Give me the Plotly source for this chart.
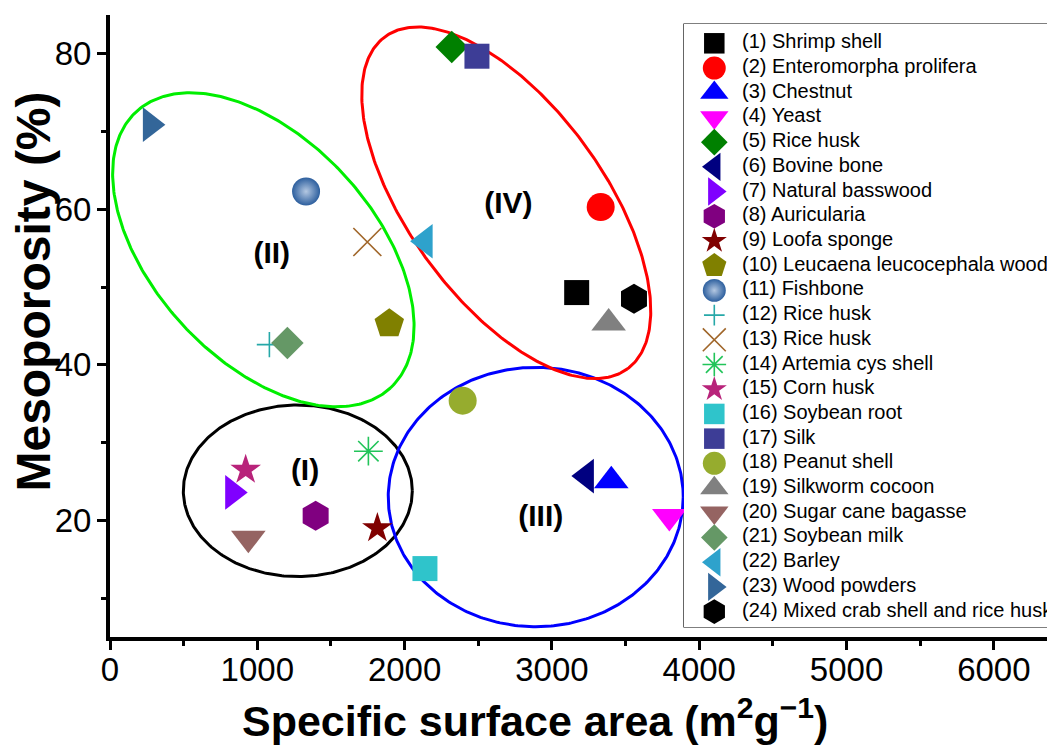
import numpy as np
import plotly.graph_objects as go

# ---------------- data ----------------
names = [
    "(1) Shrimp shell", "(2) Enteromorpha prolifera", "(3) Chestnut", "(4) Yeast",
    "(5) Rice husk", "(6) Bovine bone", "(7) Natural basswood", "(8) Auricularia",
    "(9) Loofa sponge", "(10) Leucaena leucocephala wood", "(11) Fishbone",
    "(12) Rice husk", "(13) Rice husk", "(14) Artemia cys shell", "(15) Corn husk",
    "(16) Soybean root", "(17) Silk", "(18) Peanut shell", "(19) Silkworm cocoon",
    "(20) Sugar cane bagasse", "(21) Soybean milk", "(22) Barley", "(23) Wood powders",
    "(24) Mixed crab shell and rice husk",
]
surface_area = [3168, 3331, 3403, 3797, 2320, 3234, 833, 1396, 1815, 1896, 1331, 1082,
                1747, 1754, 921, 2138, 2491, 2394, 3385, 939, 1204, 2139, 274, 3557]
mesoporosity = [49.3, 60.3, 25.1, 20.5, 80.9, 25.7, 23.6, 20.6, 19.0, 45.3, 62.3, 42.6,
                55.8, 28.9, 26.5, 13.8, 79.7, 35.4, 45.4, 17.7, 42.8, 55.9, 70.9, 48.5]
symbols = ["square", "circle", "triangle-up", "triangle-down", "diamond", "triangle-left",
           "triangle-right", "hexagon", "star", "pentagon", "circle", "cross-thin",
           "x-thin", "asterisk", "star", "square", "square", "circle", "triangle-up",
           "triangle-down", "diamond", "triangle-left", "triangle-right", "hexagon"]
colors = ["#000000", "#FF0000", "#0000FF", "#FF00FF", "#008000", "#000080", "#8000FF",
          "#800080", "#800000", "#808000", "#2D5F9E", "#26A8A8", "#A0662A", "#22C45A",
          "#B8237A", "#2FC4CB", "#3D3D96", "#96AC2E", "#808080", "#956462", "#659866",
          "#2EA2CC", "#336699", "#000000"]

# groups (ellipses) : label, colour, centre (data units)
group_labels = ["(I)", "(II)", "(III)", "(IV)"]
group_colors = ["#000000", "#00EE00", "#0000FF", "#FF0000"]
group_cx = [1275, 1041, 2890, 2690]
group_cy = [23.8, 54.8, 23.0, 60.85]
label_x = [1324, 1098, 2924, 2704]
label_y = [26.1, 54.1, 20.3, 60.5]

x_ticks = [0, 1000, 2000, 3000, 4000, 5000, 6000]
y_ticks = [20, 40, 60, 80]

# ---------------- style / layout ----------------
OFF = 8                      # page body margin
W, H = 1055 - OFF, 745 - OFF
ML, MR, MT, MB = 110 - OFF, 0, 15 - OFF, 108
X_RANGE = [0, 6415]
Y_RANGE = [5, 85]
plot_w = W - ML - MR
plot_h = H - MT - MB
sx = plot_w / (X_RANGE[1] - X_RANGE[0])   # px per data unit
sy = plot_h / (Y_RANGE[1] - Y_RANGE[0])


def px_x(p):  # page pixel -> paper x
    return (p - 110) / plot_w


def px_y(p):  # page pixel -> paper y
    return (637 - p) / plot_h


# ellipse shape (screen semi-axes in px, rotation in degrees, y pointing down)
ell_a = [114.5, 187.7, 147.5, 205.6]
ell_b = [85.8, 110.2, 129.7, 97.5]
ell_rot = [0, 47.4, 0, 53.9]

size_map = {"square": 25, "circle": 28, "triangle-up": 30, "triangle-down": 30,
            "triangle-left": 30, "triangle-right": 30, "diamond": 25, "hexagon": 30,
            "star": 23, "pentagon": 31, "cross-thin": 18, "x-thin": 28, "asterisk": 24}
FONT = "Arial, Liberation Sans, sans-serif"

fig = go.Figure()

# ellipses
t = np.linspace(0, 2 * np.pi, 361)
for i in range(len(group_labels)):
    th = np.deg2rad(ell_rot[i])
    dx = ell_a[i] * np.cos(th) * np.cos(t) - ell_b[i] * np.sin(th) * np.sin(t)
    dy = ell_a[i] * np.sin(th) * np.cos(t) + ell_b[i] * np.cos(th) * np.sin(t)
    fig.add_trace(go.Scatter(
        x=group_cx[i] + dx / sx, y=group_cy[i] - dy / sy, mode="lines",
        line=dict(color=group_colors[i], width=3), hoverinfo="skip",
        showlegend=False, xaxis="x", yaxis="y"))


def marker_style(i, scale=1.0):
    sym = symbols[i]
    m = dict(symbol=sym, size=size_map[sym] * scale, color=colors[i],
             line=dict(width=0, color=colors[i]))
    if sym in ("cross-thin", "x-thin", "asterisk"):
        m["line"] = dict(width=1.6, color=colors[i])
    if i == 10:  # fishbone: shaded sphere
        m["gradient"] = dict(type="radial", color="#b4c8e2")
    return m


# data points
for i in range(len(names)):
    fig.add_trace(go.Scatter(
        x=[surface_area[i]], y=[mesoporosity[i]], mode="markers", name=names[i],
        marker=marker_style(i), showlegend=False, xaxis="x", yaxis="y"))

# group labels
fig.add_trace(go.Scatter(
    x=label_x, y=label_y, mode="text", text=group_labels,
    textfont=dict(family=FONT, size=30, color="black", weight="bold"),
    hoverinfo="skip", showlegend=False, xaxis="x", yaxis="y"))

# key (legend) drawn on its own axes
rows = list(range(1, len(names) + 1))
for i in range(len(names)):
    fig.add_trace(go.Scatter(
        x=[30.3], y=[rows[i]], mode="markers", marker=marker_style(i, 0.82),
        hoverinfo="skip", showlegend=False, xaxis="x2", yaxis="y2"))
fig.add_trace(go.Scatter(
    x=[58] * len(names), y=rows, mode="text", text=names, textposition="middle right",
    textfont=dict(family=FONT, size=20, color="black"), marker=dict(size=1),
    hoverinfo="skip", showlegend=False, xaxis="x2", yaxis="y2"))

fig.add_shape(type="rect", xref="x2 domain", yref="y2 domain", x0=0, x1=1.2, y0=0, y1=1,
              line=dict(color="black", width=1.2), fillcolor="white", layer="below")

tickfont = dict(family=FONT, size=33, color="black")
fig.update_layout(
    width=W, height=H, margin=dict(l=ML, r=MR, t=MT, b=MB),
    paper_bgcolor="white", plot_bgcolor="white", showlegend=False,
    xaxis=dict(range=X_RANGE, tickvals=x_ticks, showline=True, linewidth=4, linecolor="black",
               ticks="outside", ticklen=9, tickwidth=3, tickcolor="black",
               minor=dict(dtick=500, ticks="outside", ticklen=5, tickwidth=3, tickcolor="black"),
               showgrid=False, zeroline=False, tickfont=tickfont, ticklabelstandoff=-9),
    yaxis=dict(range=Y_RANGE, tickvals=y_ticks, showline=True, linewidth=4, linecolor="black",
               ticks="outside", ticklen=9, tickwidth=3, tickcolor="black",
               minor=dict(tickvals=[10, 30, 50, 70], ticks="outside", ticklen=5, tickwidth=3,
                          tickcolor="black"),
               showgrid=False, zeroline=False, tickfont=tickfont, ticklabelstandoff=-1),
    xaxis3=dict(range=X_RANGE, overlaying="x", side="top", anchor="y", showline=True,
                linewidth=3, linecolor="black", ticks="inside", ticklen=4, tickwidth=2,
                tickcolor="black", dtick=500, tick0=0, showticklabels=False,
                showgrid=False, zeroline=False),
    xaxis2=dict(domain=[px_x(684), 1], range=[0, 1055 - 684], anchor="y2", visible=False,
                fixedrange=True),
    yaxis2=dict(domain=[px_y(627), px_y(24)], range=[24.623, 0.219], anchor="x2",
                visible=False, fixedrange=True),
)

fig.add_annotation(text="Mesoporosity (%)", xref="paper", yref="paper",
                   x=px_x(32.5), y=px_y(292), textangle=-90,
                   showarrow=False, xanchor="center", yanchor="middle",
                   font=dict(family=FONT, size=48, color="black", weight="bold"))
fig.add_annotation(text="Specific surface area (m<sup>2</sup>g<sup>\u22121</sup>)",
                   xref="paper", yref="paper", x=px_x(535), y=px_y(718),
                   showarrow=False, xanchor="center", yanchor="middle",
                   font=dict(family=FONT, size=43, color="black", weight="bold"))

fig.write_html("out.html")
